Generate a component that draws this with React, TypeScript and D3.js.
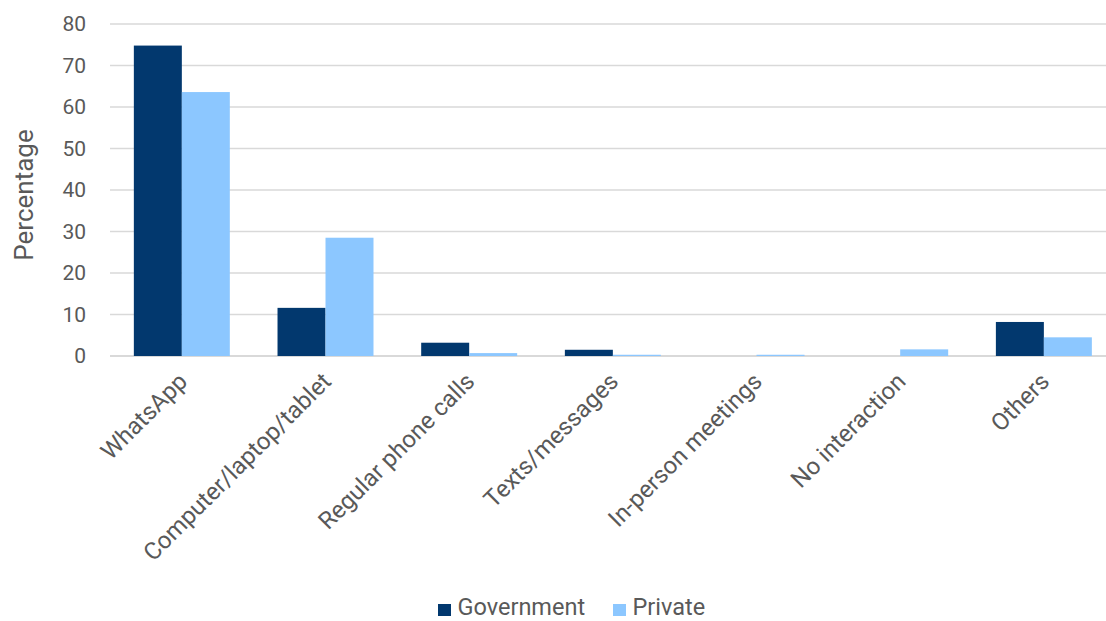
import React from "react";
import * as d3 from "d3";

const categories = [
  "WhatsApp",
  "Computer/laptop/tablet",
  "Regular phone calls",
  "Texts/messages",
  "In-person meetings",
  "No interaction",
  "Others",
];
const seriesNames = ["Government", "Private"];
const government = [74.8, 11.6, 3.2, 1.5, 0, 0, 8.2];
const privateVals = [63.6, 28.5, 0.7, 0.3, 0.3, 1.6, 4.5];
const yTicks = [0, 10, 20, 30, 40, 50, 60, 70, 80];
const colors = ["#02386E", "#8CC7FF"];

const W = 1106;
const H = 621;
const plotLeft = 110;
const plotRight = 1115.7;
const plotTop = 24;
const plotBottom = 356;

export default function App() {
  const x = d3
    .scaleBand<string>()
    .domain(categories)
    .range([plotLeft, plotRight])
    .paddingInner(0.332)
    .paddingOuter(0.166);
  const x1 = d3.scaleBand<string>().domain(seriesNames).range([0, x.bandwidth()]);
  const y = d3.scaleLinear().domain([0, 80]).range([plotBottom, plotTop]);
  const font = "Roboto, 'Noto Sans', sans-serif";
  const textColor = "#595959";
  const data = [government, privateVals];
  return (
    <svg
      width={W}
      height={H}
      style={{ position: "absolute", left: 0, top: 0, background: "#fff" }}
      fontFamily={font}
    >
      {yTicks.map((t) => (
        <g key={t}>
          <line
            x1={plotLeft}
            x2={W}
            y1={y(t)}
            y2={y(t)}
            stroke="#d9d9d9"
            strokeWidth={t === 0 ? 2 : 1.5}
          />
          <text x={86} y={y(t)} dy="0.35em" textAnchor="end" fontSize={21} fill={textColor}>
            {t}
          </text>
        </g>
      ))}
      <text
        transform={`translate(33,${(y(0) + y(80)) / 2 + 5}) rotate(-90)`}
        textAnchor="middle"
        fontSize={26}
        fill={textColor}
      >
        Percentage
      </text>
      {categories.map((c, i) => (
        <g key={c} transform={`translate(${x(c)},0)`}>
          {seriesNames.map((s, j) => {
            const v = data[j][i];
            return (
              <rect
                key={s}
                x={x1(s)}
                y={y(v)}
                width={x1.bandwidth()}
                height={y(0) - y(v)}
                fill={colors[j]}
              />
            );
          })}
        </g>
      ))}
      {categories.map((c) => {
        const cx = (x(c) as number) + x.bandwidth() / 2 + 1;
        return (
          <text
            key={c}
            transform={`translate(${cx},${y(0) + 21}) rotate(-45)`}
            textAnchor="end"
            fontSize={24}
            fill={textColor}
            dy="0.35em"
          >
            {c}
          </text>
        );
      })}
      {seriesNames.map((s, j) => {
        const lx = [438, 613][j];
        return (
          <g key={s}>
            <rect x={lx} y={604} width={13} height={12} fill={colors[j]} />
            <text x={lx + 19.5} y={615} fontSize={23.5} fill={textColor}>
              {s}
            </text>
          </g>
        );
      })}
    </svg>
  );
}
